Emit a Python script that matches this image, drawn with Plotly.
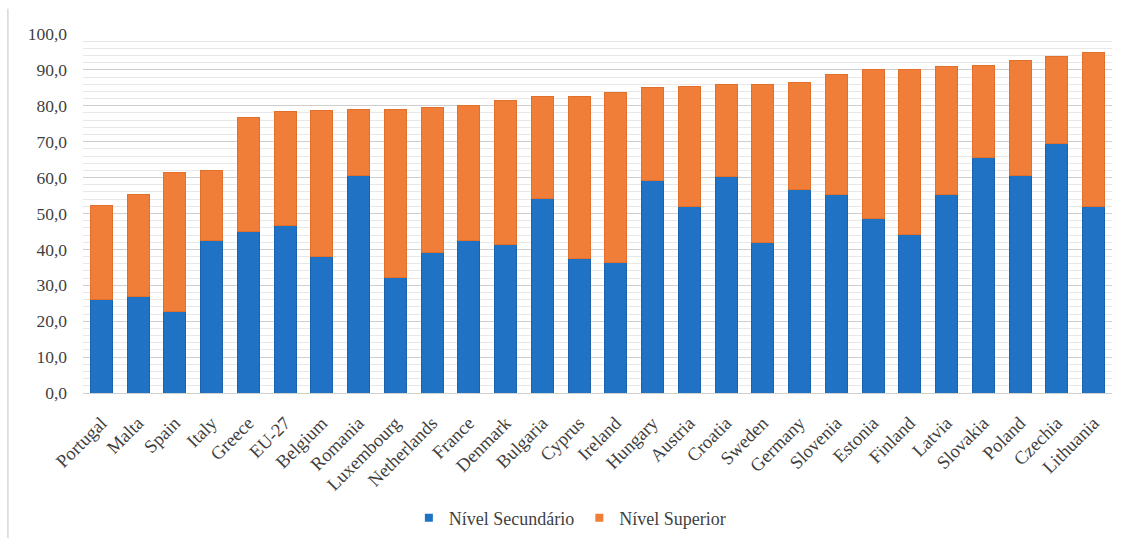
import plotly.graph_objects as go

countries = ["Portugal", "Malta", "Spain", "Italy", "Greece", "EU-27", "Belgium", "Romania",
             "Luxembourg", "Netherlands", "France", "Denmark", "Bulgaria", "Cyprus", "Ireland",
             "Hungary", "Austria", "Croatia", "Sweden", "Germany", "Slovenia", "Estonia",
             "Finland", "Latvia", "Slovakia", "Poland", "Czechia", "Lithuania"]
secundario = [26.0, 26.8, 22.6, 42.5, 45.0, 46.6, 38.1, 60.7, 32.3, 39.1, 42.4, 41.3, 54.3, 37.4,
              36.4, 59.1, 51.9, 60.4, 41.9, 56.8, 55.4, 48.6, 44.2, 55.4, 65.6, 60.7, 69.5, 51.9]
total = [52.2, 55.2, 61.3, 62.1, 76.7, 78.3, 78.6, 78.9, 79.1, 79.4, 80.2, 81.4, 82.5, 82.5,
         83.6, 85.0, 85.5, 85.8, 86.0, 86.6, 88.8, 90.1, 90.1, 90.9, 91.2, 92.7, 93.8, 94.9]
superior = [round(t - s, 1) for t, s in zip(total, secundario)]
series_names = ["Nível Secundário", "Nível Superior"]
colors = ["#1F72C4", "#F07E38"]
edge_colors = ["#1A63AE", "#E0702C"]

FONT = "Liberation Serif, Times New Roman, serif"
TXT = "#3f3f3f"

fig = go.Figure()
for name, vals, c, ec in zip(series_names, [secundario, superior], colors, edge_colors):
    fig.add_trace(go.Bar(x=countries, y=vals, name=name, showlegend=False,
                         marker=dict(color=c, line=dict(color=ec, width=1))))
# legend entries with small square markers
for name, c in zip(series_names, colors):
    fig.add_trace(go.Scatter(x=[None], y=[None], mode="markers", name=name,
                             marker=dict(symbol="square", size=8, color=c)))

fig.update_layout(
    barmode="stack",
    bargap=0.4,
    width=1124, height=538,
    margin=dict(l=83, r=12, t=34, b=145, autoexpand=False),
    paper_bgcolor="white", plot_bgcolor="white",
    separators=",.",
    font=dict(family=FONT, size=17, color=TXT),
    showlegend=True,
    legend=dict(orientation="h", xref="container", yref="container",
                x=0.507, xanchor="center", y=0.037, yanchor="middle",
                font=dict(family=FONT, size=18, color=TXT), traceorder="normal",
                itemwidth=30, tracegroupgap=0),
    xaxis=dict(tickangle=-45, tickfont=dict(family=FONT, size=18.5, color=TXT),
               showline=True, linecolor="#d0d0d0", ticks="", automargin=False,
               ticklabelstandoff=11),
    yaxis=dict(range=[0, 100], dtick=10, tickformat=".1f", showgrid=True,
               gridcolor="#cfcfcf", gridwidth=1, zeroline=False, ticks="", automargin=False,
               tickfont=dict(family=FONT, size=17.5, color=TXT), ticklabelstandoff=15,
               minor=dict(dtick=2, showgrid=True, gridcolor="#e8e8e8", gridwidth=1)),
)
fig.add_shape(type="line", xref="paper", yref="paper", x0=-0.073, x1=-0.073, y0=-0.43, y1=1.07,
              line=dict(color="#d8d8d8", width=1.5))
fig.write_html("out.html")
